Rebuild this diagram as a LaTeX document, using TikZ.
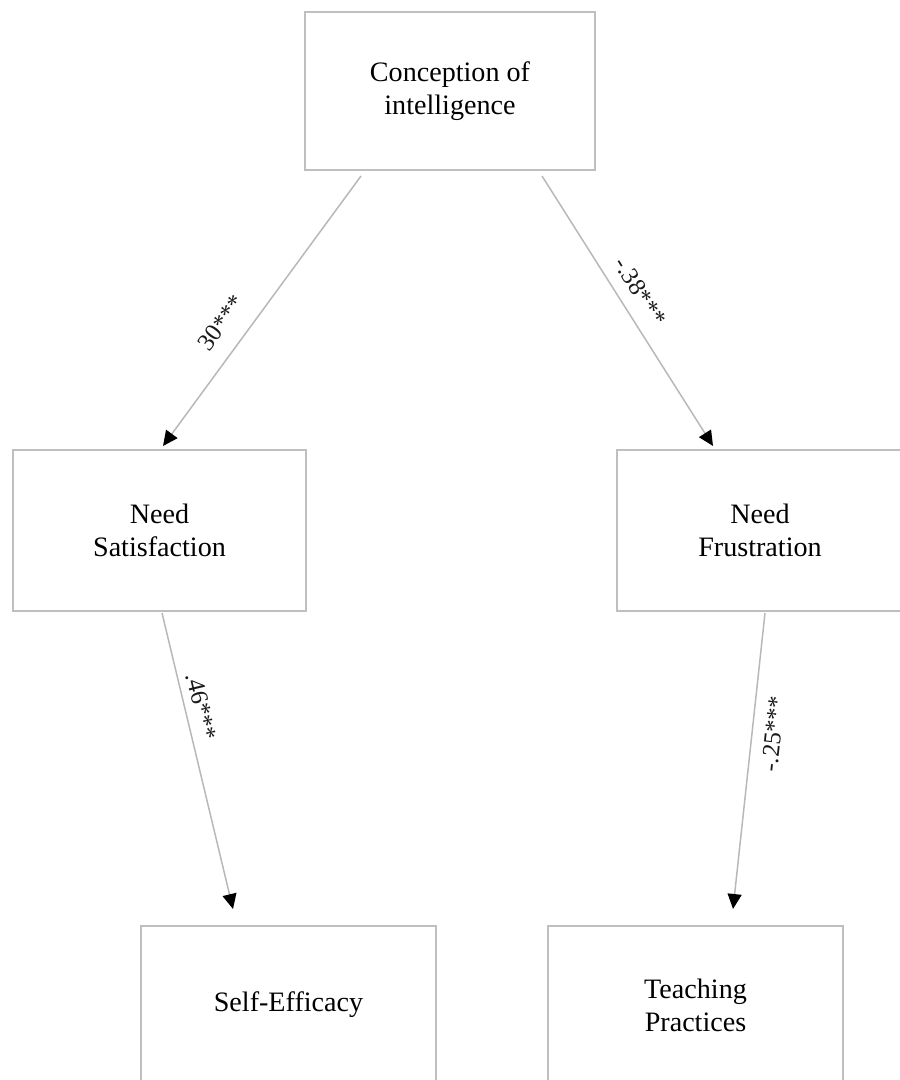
\documentclass[tikz,border=0pt]{standalone}
\usepackage{fontspec}
\setmainfont{Liberation Serif}
\usetikzlibrary{arrows.meta}

\begin{document}
\begin{tikzpicture}[
  box/.style={draw=cbox,line width=0.04cm,fill=white,shape=rectangle,align=center,inner sep=0pt,font=\fontsize{16}{18.8}\selectfont},
  link/.style={draw=cedge,line width=0.03cm,-{Triangle[length=0.3cm,width=0.28cm,color=ctip]}},
  coef/.style={sloped,inner sep=0pt,text=ctext,font=\fontsize{14}{17}\selectfont}
]
\definecolor{cbox}{rgb}{0.75,0.75,0.75}
\definecolor{cedge}{rgb}{0.72,0.72,0.72}
\definecolor{ctip}{rgb}{0.0,0.0,0.0}
\definecolor{ctext}{rgb}{0.1,0.1,0.1}
%
\useasboundingbox (0cm,0cm) rectangle (17.98cm,21.6cm);
%
\node[box,minimum width=5.8cm,minimum height=3.16cm] (concept) at (9.0cm,19.78cm) {Conception of\\intelligence};
\node[box,minimum width=5.86cm,minimum height=3.22cm] (needsat) at (3.19cm,10.99cm) {Need\\Satisfaction};
\node[box,minimum width=5.72cm,minimum height=3.22cm] (needfru) at (15.2cm,10.99cm) {Need\\Frustration};
\node[box,minimum width=5.9cm,minimum height=3.16cm] (selfeff) at (5.77cm,1.5cm) {Self-Efficacy};
\node[box,minimum width=5.9cm,minimum height=3.16cm] (teach) at (13.91cm,1.5cm) {Teaching\\Practices};
%
\draw[link] ([xshift=-1.78cm,yshift=-0.1cm]concept.south) -- node[coef,pos=0.6,above=0.34cm] {30***} ([xshift=0.07cm,yshift=0.06cm]needsat.north);
\draw[link] ([xshift=1.84cm,yshift=-0.1cm]concept.south) -- node[coef,pos=0.47,above=0.24cm] {-.38***} ([xshift=-0.94cm,yshift=0.06cm]needfru.north);
\draw[link] ([xshift=0.05cm,yshift=-0.02cm]needsat.south) -- node[coef,pos=0.33,above=0.15cm] {.46***} ([xshift=-1.11cm,yshift=0.32cm]selfeff.north);
\draw[link] ([xshift=0.1cm,yshift=-0.02cm]needfru.south) -- node[coef,pos=0.4,below=0.24cm] {-.25***} ([xshift=0.75cm,yshift=0.32cm]teach.north);
%
\end{tikzpicture}
\end{document}
